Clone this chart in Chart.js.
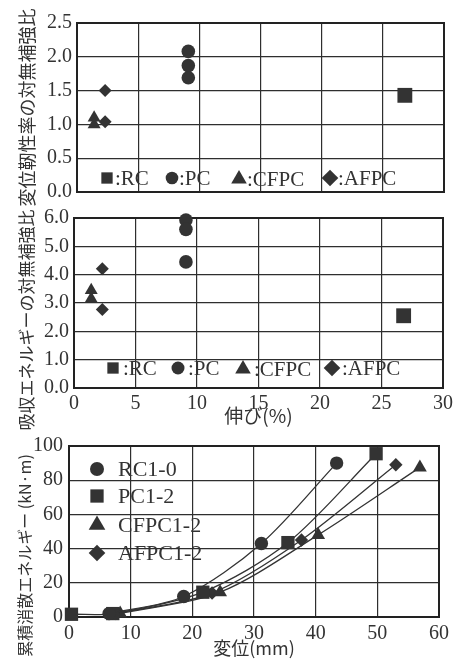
<!DOCTYPE html>
<html>
<head>
<meta charset="utf-8">
<script src="https://cdn.jsdelivr.net/npm/chart.js@4/dist/chart.umd.min.js"></script>
<style>
    html, body { margin: 0; padding: 0; background: #ffffff; }
    body { width: 456px; height: 662px; position: relative; overflow: hidden; }
    canvas { position: absolute; left: 0; }
</style>
</head>
<body>
<canvas id="ductility-chart" width="456" height="208" style="top:0px"></canvas>
<canvas id="energy-ratio-chart" width="456" height="232" style="top:200px"></canvas>
<canvas id="cumulative-chart" width="456" height="227" style="top:435px"></canvas>
<script>
// 伸び(%) -- 上段・中段共通
const rcElong = [26.8];
const pcElong = [9.1, 9.1, 9.1];
const cfpcElong = [1.4, 1.4];
const afpcElong = [2.3, 2.3];

// 変位靭性率の対無補強比
const rcDuctility = [1.43];
const pcDuctility = [2.08, 1.87, 1.69];
const cfpcDuctility = [1.10, 1.00];
const afpcDuctility = [1.50, 1.04];

// 吸収エネルギーの対無補強比
const rcEnergyRatio = [2.55];
const pcEnergyRatio = [5.93, 5.60, 4.45];
const cfpcEnergyRatio = [3.45, 3.15];
const afpcEnergyRatio = [4.21, 2.77];

const groupLabels = ['RC', 'PC', 'CFPC', 'AFPC'];

// 累積消散エネルギー -- 変位(mm) / (kN·m)
const curveLabels = ['RC1-0', 'PC1-2', 'CFPC1-2', 'AFPC1-2'];
const rc10Disp = [6.5, 18.6, 31.2, 43.4];
const rc10Energy = [2, 12, 43, 90];
const pc12Disp = [0.4, 7.1, 21.7, 35.5, 49.8];
const pc12Energy = [1.6, 2, 14.5, 43.5, 95.5];
const cfpc12Disp = [8.3, 24.5, 40.4, 56.9];
const cfpc12Energy = [2, 14.5, 48, 87.5];
const afpc12Disp = [7.6, 23.2, 37.7, 53.0];
const afpc12Energy = [2, 14, 45, 89];

const INK = '#333333';
const GRID = '#2e2e2e';
const SERIF = "'Liberation Serif', 'DejaVu Serif', serif";
const CJK = "'Noto Sans CJK JP', 'Noto Sans', sans-serif";

const toPoints = (xs, ys) => xs.map((x, i) => ({ x: x, y: ys[i] }));

// 枠線
const framePlugin = {
    id: 'frame',
    beforeDatasetsDraw(chart) {
        const a = chart.chartArea;
        const ctx = chart.ctx;
        ctx.save();
        ctx.strokeStyle = '#222';
        ctx.lineWidth = 2;
        ctx.strokeRect(a.left, a.top, a.right - a.left, a.bottom - a.top);
        ctx.restore();
    }
};

// 凡例（グラフ内に描く）
function makeLegend(items, fontSize) {
    return {
        id: 'inlineLegend',
        afterDraw(chart) {
            const ctx = chart.ctx;
            ctx.save();
            ctx.fillStyle = INK;
            ctx.font = fontSize + 'px ' + SERIF;
            ctx.textBaseline = 'middle';
            items.forEach(item => {
                Chart.helpers.drawPoint(ctx, {
                    pointStyle: item.style, radius: item.r, rotation: 0, borderWidth: 0
                }, item.x, item.y);
                ctx.fillText(item.text, item.tx, item.y + 1);
            });
            ctx.restore();
        }
    };
}

function gridOpts() {
    return { color: GRID, lineWidth: 1.2, drawTicks: false };
}

function tickFont(size) {
    return { family: SERIF, size: size };
}

// 軸の大きさを固定し、ラベル分の余白を無視させる
function fixY(width) {
    return function(s) {
        s.width = width;
        s.paddingTop = 0;
        s.paddingBottom = 0;
    };
}
function fixX(height) {
    return function(s) {
        s.height = height;
        s.paddingLeft = 0;
        s.paddingRight = 0;
    };
}

// 上段・中段の散布図データセット
function groupDatasets(ys) {
    const xs = [rcElong, pcElong, cfpcElong, afpcElong];
    const styles = ['rect', 'circle', 'triangle', 'rectRot'];
    const radii = [10.5, 6.8, 7.5, 6.5];
    return groupLabels.map((label, i) => ({
        label: label,
        data: toPoints(xs[i], ys[i]),
        pointStyle: styles[i],
        pointRadius: radii[i],
        backgroundColor: INK,
        borderColor: INK,
        borderWidth: 0,
        clip: false
    }));
}

Chart.defaults.animation = false;
Chart.defaults.devicePixelRatio = 1;

// 上段: 変位靭性率
new Chart(document.getElementById('ductility-chart'), {
    type: 'scatter',
    data: { datasets: groupDatasets([rcDuctility, pcDuctility, cfpcDuctility, afpcDuctility]) },
    options: {
        responsive: false,
        layout: { padding: { top: 23, right: 12, bottom: 0, left: 0 } },
        plugins: { legend: { display: false }, tooltip: { enabled: false } },
        scales: {
            x: {
                type: 'linear', min: 0, max: 30,
                ticks: { display: false, stepSize: 5 },
                grid: gridOpts(),
                border: { display: false },
                afterFit: fixX(16)
            },
            y: {
                min: 0, max: 2.5,
                ticks: { stepSize: 0.5, padding: 5, color: INK, font: tickFont(20),
                    callback: v => v.toFixed(1) },
                grid: gridOpts(),
                border: { display: false },
                title: { display: true, text: '変位靭性率の対無補強比', color: INK,
                    font: { family: CJK, size: 18 }, padding: { top: 16, bottom: 0 } },
                afterFit: fixY(77)
            }
        }
    },
    plugins: [framePlugin, makeLegend([
        { style: 'rect', r: 8, x: 107, y: 178, text: ':RC', tx: 115 },
        { style: 'circle', r: 6.3, x: 172, y: 178, text: ':PC', tx: 179 },
        { style: 'triangle', r: 9, x: 239, y: 179, text: ':CFPC', tx: 247 },
        { style: 'rectRot', r: 8.3, x: 330, y: 178, text: ':AFPC', tx: 338 }
    ], 21)]
});

// 中段: 吸収エネルギー
new Chart(document.getElementById('energy-ratio-chart'), {
    type: 'scatter',
    data: { datasets: groupDatasets([rcEnergyRatio, pcEnergyRatio, cfpcEnergyRatio, afpcEnergyRatio]) },
    options: {
        responsive: false,
        layout: { padding: { top: 18, right: 13, bottom: 0, left: 0 } },
        plugins: { legend: { display: false }, tooltip: { enabled: false } },
        scales: {
            x: {
                type: 'linear', min: 0, max: 30,
                ticks: { stepSize: 5, padding: 4, color: INK, font: tickFont(20) },
                grid: gridOpts(),
                border: { display: false },
                title: { display: true, text: '伸び(%)', color: INK,
                    font: { family: CJK, size: 19 }, padding: { top: 0, bottom: 5 } },
                afterFit: fixX(44)
            },
            y: {
                min: 0, max: 6,
                ticks: { stepSize: 1, padding: 5, color: INK, font: tickFont(20),
                    callback: v => v.toFixed(1) },
                grid: gridOpts(),
                border: { display: false },
                title: { display: true, text: '吸収エネルギーの対無補強比\u3000\u3000', color: INK,
                    font: { family: CJK, size: 17 }, padding: { top: 16, bottom: 0 } },
                afterFit: fixY(74)
            }
        }
    },
    plugins: [framePlugin, makeLegend([
        { style: 'rect', r: 8, x: 113, y: 168, text: ':RC', tx: 123 },
        { style: 'circle', r: 6.5, x: 178, y: 168, text: ':PC', tx: 188 },
        { style: 'triangle', r: 9, x: 243, y: 169, text: ':CFPC', tx: 254 },
        { style: 'rectRot', r: 8.3, x: 332, y: 168, text: ':AFPC', tx: 342 }
    ], 21)]
});

// 下段: 累積消散エネルギー
const curveXs = [rc10Disp, pc12Disp, cfpc12Disp, afpc12Disp];
const curveYs = [rc10Energy, pc12Energy, cfpc12Energy, afpc12Energy];
const curveStyles = ['circle', 'rect', 'triangle', 'rectRot'];
const curveRadii = [6.7, 9.4, 8, 6.7];

new Chart(document.getElementById('cumulative-chart'), {
    type: 'scatter',
    data: {
        datasets: curveLabels.map((label, i) => ({
            label: label,
            data: toPoints(curveXs[i], curveYs[i]),
            showLine: true,
            tension: 0.3,
            borderColor: INK,
            borderWidth: 1.3,
            pointStyle: curveStyles[i],
            pointRadius: curveRadii[i],
            pointBackgroundColor: INK,
            pointBorderWidth: 0,
            clip: false
        }))
    },
    options: {
        responsive: false,
        layout: { padding: { top: 11, right: 17, bottom: 0, left: 0 } },
        plugins: { legend: { display: false }, tooltip: { enabled: false } },
        scales: {
            x: {
                type: 'linear', min: 0, max: 60,
                ticks: { stepSize: 10, padding: 5, color: INK, font: tickFont(20) },
                grid: gridOpts(),
                border: { display: false },
                title: { display: true, text: '変位(mm)', color: INK,
                    font: { family: CJK, size: 18 }, padding: { top: 0, bottom: 3 } },
                afterFit: fixX(45)
            },
            y: {
                min: 0, max: 100,
                ticks: { stepSize: 20, padding: 6, color: INK, font: tickFont(20) },
                grid: gridOpts(),
                border: { display: false },
                title: { display: true, text: '累積消散エネルギー (kN·m)\u3000\u3000\u3000', color: INK,
                    font: { family: CJK, size: 16 }, padding: { top: 15, bottom: 0 } },
                afterFit: fixY(69)
            }
        }
    },
    plugins: [framePlugin, makeLegend([
        { style: 'circle', r: 7, x: 97, y: 34, text: 'RC1-0', tx: 118 },
        { style: 'rect', r: 9.4, x: 97, y: 61, text: 'PC1-2', tx: 118 },
        { style: 'triangle', r: 9.6, x: 97, y: 90, text: 'CFPC1-2', tx: 118 },
        { style: 'rectRot', r: 8.3, x: 97, y: 118, text: 'AFPC1-2', tx: 118 }
    ], 22)]
});
</script>
</body>
</html>
